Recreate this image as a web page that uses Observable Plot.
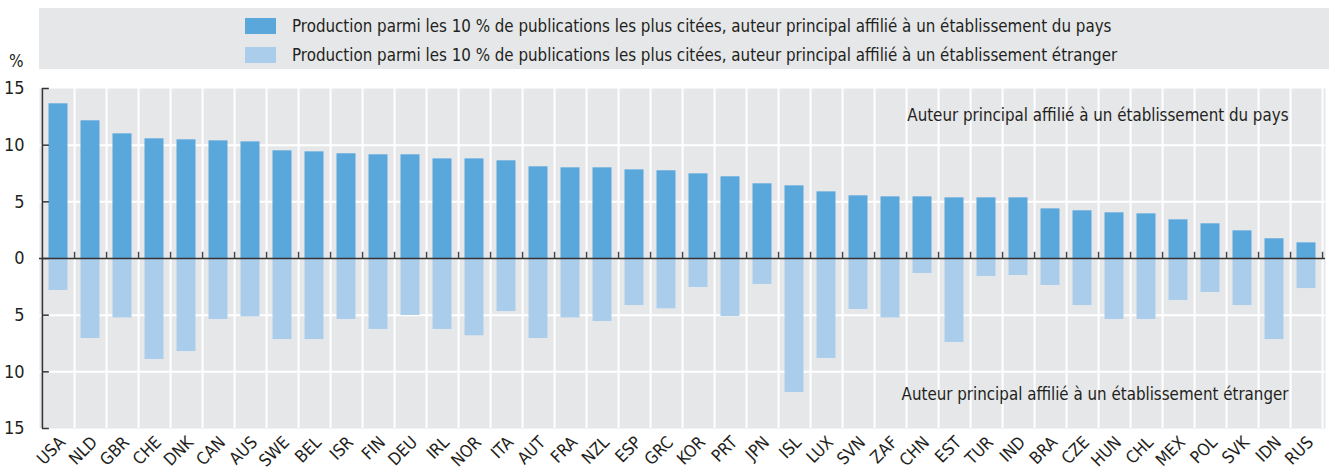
<!DOCTYPE html>
<html><head><meta charset="utf-8">
<script src="https://cdn.jsdelivr.net/npm/d3@7"></script>
<script src="https://cdn.jsdelivr.net/npm/@observablehq/plot@0.6"></script>
<style>
body{margin:0;background:#fff;font-family:"Liberation Sans Narrow","Arial Narrow","DejaVu Sans Condensed",sans-serif;color:#231f20}
#wrap{position:relative;width:1329px;height:470px;overflow:hidden}
#legend{position:absolute;left:39px;top:8px;width:1290px;height:61px;background:#e6e7e9}
.item{position:absolute;left:206px;height:20px;display:flex;align-items:center;font-size:16.8px;white-space:nowrap}
.sw{width:31px;height:16px;margin-right:16px}
#pct{position:absolute;left:9px;top:51px;font-size:17px}
#chart{position:absolute;left:0;top:60px}
</style></head>
<body>
<div id="wrap">
  <div id="legend">
    <div class="item" style="top:8px"><span class="sw" style="background:#5aa7dc"></span><span id="l1"></span></div>
    <div class="item" style="top:37px"><span class="sw" style="background:#abcdec"></span><span id="l2"></span></div>
  </div>
  <div id="pct">%</div>
  <div id="chart"></div>
</div>
<script>
const countries = ["USA","NLD","GBR","CHE","DNK","CAN","AUS","SWE","BEL","ISR","FIN","DEU","IRL","NOR","ITA","AUT","FRA","NZL","ESP","GRC","KOR","PRT","JPN","ISL","LUX","SVN","ZAF","CHN","EST","TUR","IND","BRA","CZE","HUN","CHL","MEX","POL","SVK","IDN","RUS"];
const domestic = [13.65,12.15,11.0,10.56,10.47,10.38,10.29,9.5,9.41,9.24,9.15,9.15,8.79,8.79,8.62,8.09,8.0,8.0,7.82,7.74,7.47,7.21,6.59,6.41,5.88,5.53,5.44,5.44,5.35,5.35,5.35,4.38,4.21,4.03,3.94,3.41,3.06,2.44,1.74,1.38];
const foreign = [2.82,7.06,5.24,8.91,8.21,5.38,5.15,7.15,7.15,5.38,6.26,5.03,6.26,6.82,4.68,7.06,5.24,5.56,4.15,4.44,2.56,5.12,2.29,11.82,8.82,4.5,5.24,1.32,7.41,1.59,1.5,2.38,4.15,5.38,5.38,3.71,3.0,4.15,7.15,2.65];
const yTicks = [-15,-10,-5,0,5,10,15];
const gridTicks = [-10,-5,5,10];
const seriesNames = [
  "Production parmi les 10 % de publications les plus citées, auteur principal affilié à un établissement du pays",
  "Production parmi les 10 % de publications les plus citées, auteur principal affilié à un établissement étranger"
];
const annotTop = "Auteur principal affilié à un établissement du pays";
const annotBottom = "Auteur principal affilié à un établissement étranger";

document.getElementById("l1").textContent = seriesNames[0];
document.getElementById("l2").textContent = seriesNames[1];

const data = countries.map((c, i) => ({country: c, domestic: domestic[i], foreign: -foreign[i]}));
const dark = "#5aa7dc", light = "#abcdec", gray = "#e6e7e9", ink = "#231f20";
const half = (1329 - 39 - 4) / countries.length / 2;

const chart = Plot.plot({
  width: 1329,
  height: 410,
  marginTop: 28,
  marginBottom: 42,
  marginLeft: 39,
  marginRight: 4,
  style: {fontFamily: '"Liberation Sans Narrow","Arial Narrow","DejaVu Sans Condensed",sans-serif', color: ink, background: "transparent", overflow: "visible"},
  x: {domain: countries, padding: 0, label: null},
  y: {domain: [-15, 15], label: null},
  marks: [
    Plot.frame({fill: gray, stroke: null}),
    Plot.ruleY(gridTicks, {stroke: "white", strokeWidth: 2}),
    Plot.ruleX(countries, {x: d => d, dx: half, stroke: "white", strokeWidth: 2}),
    Plot.barY(data, {x: "country", y: "domestic", fill: dark, insetLeft: 6.5, insetRight: 6.5}),
    Plot.barY(data, {x: "country", y: "foreign", fill: light, insetLeft: 6.5, insetRight: 6.5}),
    Plot.ruleX(countries, {x: d => d, dx: half, y1: 0, y2: 0.55, stroke: "#444", strokeWidth: 1.5}),
    Plot.ruleY([0], {stroke: "#333", strokeWidth: 1.5}),
    Plot.ruleX([countries[0]], {x: d => d, dx: -half, stroke: "#333", strokeWidth: 1.5}),
    Plot.tickY(yTicks, {y: d => d, x: () => countries[0], insetRight: 2 * half - 7, stroke: "#333", strokeWidth: 1.5}),
    Plot.axisY({ticks: yTicks, tickFormat: d => Math.abs(d), tickSize: 0, tickPadding: 15, fontSize: 18, label: null}),
    Plot.axisX({tickSize: 0, tickRotate: -45, tickPadding: 11, dx: 4, fontSize: 17, label: null}),
    Plot.text([annotTop], {text: d => d, frameAnchor: "top-right", lineAnchor: "middle", textAnchor: "end", dx: -37, dy: 27, fontSize: 16.8, fill: ink}),
    Plot.text([annotBottom], {text: d => d, frameAnchor: "bottom-right", lineAnchor: "middle", textAnchor: "end", dx: -37, dy: -34, fontSize: 16.8, fill: ink})
  ]
});
document.getElementById("chart").appendChild(chart);
</script>
</body></html>
